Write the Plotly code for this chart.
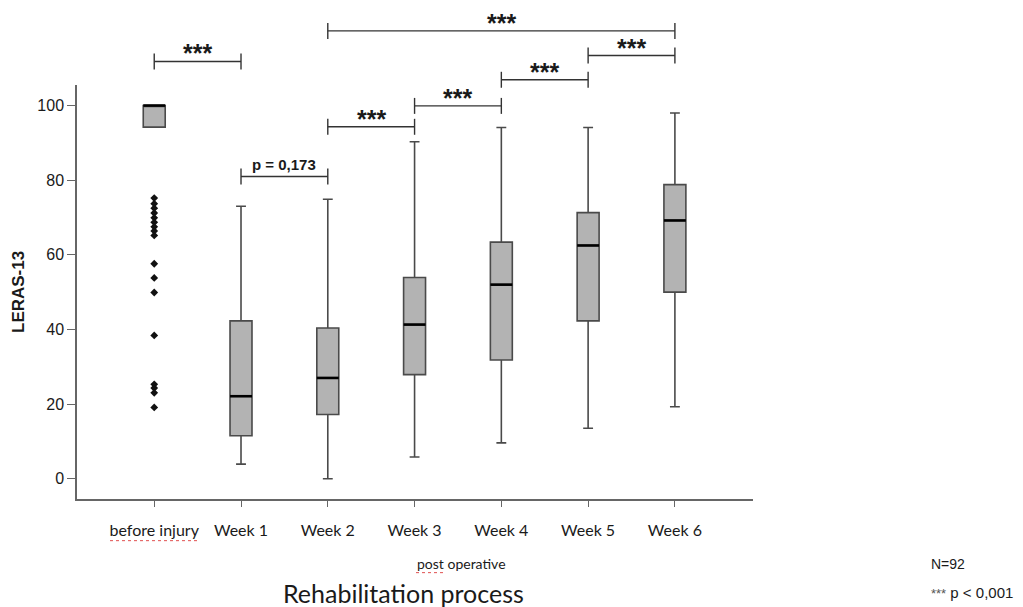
import plotly.graph_objects as go

# ---- data ----
categories = ["before injury", "Week 1", "Week 2", "Week 3", "Week 4", "Week 5", "Week 6"]
q1 = [94.2, 11.5, 17.2, 27.9, 31.8, 42.3, 50.0]
median = [100.0, 22.1, 27.0, 41.3, 52.0, 62.5, 69.2]
q3 = [100.0, 42.3, 40.4, 53.9, 63.4, 71.3, 78.8]
lower_whisker = [94.2, 3.9, 0.0, 5.8, 9.6, 13.5, 19.3]
upper_whisker = [100.0, 73.0, 74.9, 90.3, 94.1, 94.1, 98.0]
outliers_before_injury = [75.2, 73.7, 72.5, 71.2, 69.9, 68.7, 67.5, 66.4, 65.2,
                          57.6, 53.8, 49.9, 38.4, 25.3, 24.3, 23.0, 19.1]
y_ticks = [0, 20, 40, 60, 80, 100]

# comparisons: (from category index, to category index, label)
comparisons = [(0, 1, "***"), (1, 2, "p = 0,173"), (2, 3, "***"), (3, 4, "***"),
               (4, 5, "***"), (5, 6, "***"), (2, 6, "***")]
# bracket heights on the LERAS-13 scale (layout)
bracket_levels = [111.8, 81.0, 94.3, 99.9, 106.9, 113.4, 120.0]

# ---- layout constants ----
Y_MIN, Y_MAX = -5.44, 105.5
X_MIN, X_MAX = -0.89, 6.90
BOX_W = 0.253
BOX_FILL = "#b3b3b3"
LINE_C = "#4a4a4a"
AXIS_C = "#666666"
TEXT_C = "#1a1a1a"
PLOT_L, PLOT_W, PLOT_B, PLOT_H = 77, 676, 499.3, 414.3


def yp(v):
    return (v - Y_MIN) / (Y_MAX - Y_MIN)


def px_x(x):
    return (x - PLOT_L) / PLOT_W


def px_y(y):
    return (PLOT_B - y) / PLOT_H


fig = go.Figure()

for i, cat in enumerate(categories):
    fig.add_trace(go.Box(
        x=[i], q1=[q1[i]], median=[median[i]], q3=[q3[i]],
        lowerfence=[lower_whisker[i]], upperfence=[upper_whisker[i]],
        width=BOX_W, whiskerwidth=0.45, boxpoints=False,
        fillcolor=BOX_FILL, line=dict(color=LINE_C, width=1.6),
        name=cat, showlegend=False, hoverinfo="skip",
    ))
    # bold black median line
    fig.add_shape(type="line", xref="x", yref="y",
                  x0=i - BOX_W / 2, x1=i + BOX_W / 2, y0=median[i], y1=median[i],
                  line=dict(color="#000000", width=2.6))

fig.add_trace(go.Scatter(
    x=[0] * len(outliers_before_injury), y=outliers_before_injury, mode="markers",
    marker=dict(symbol="diamond", size=6, color="#111111"),
    showlegend=False, hoverinfo="skip",
))

# significance brackets
tick_half = 2.14
for (a, b, label), lvl in zip(comparisons, bracket_levels):
    fig.add_shape(type="line", xref="x", yref="paper", x0=a, x1=b,
                  y0=yp(lvl), y1=yp(lvl), line=dict(color="#333333", width=1.4))
    for xx in (a, b):
        fig.add_shape(type="line", xref="x", yref="paper", x0=xx, x1=xx,
                      y0=yp(lvl - tick_half), y1=yp(lvl + tick_half),
                      line=dict(color="#333333", width=1.4))
    if label == "***":
        fig.add_annotation(x=(a + b) / 2, y=yp(lvl), xref="x", yref="paper",
                           text="<b>***</b>", showarrow=False, yanchor="bottom", yshift=-8,
                           font=dict(family="Liberation Sans, Arial", size=25, color=TEXT_C))
    else:
        fig.add_annotation(x=(a + b) / 2, y=yp(lvl), xref="x", yref="paper",
                           text="<b>" + label + "</b>", showarrow=False, yanchor="bottom", yshift=1,
                           font=dict(family="Liberation Sans Narrow, Liberation Sans, Arial", size=15,
                                     color=TEXT_C))

# y axis title
fig.add_annotation(text="<b>LERAS-13</b>", xref="paper", yref="paper",
                   x=px_x(18), y=0.5, xanchor="center", yanchor="middle",
                   textangle=-90, showarrow=False,
                   font=dict(family="Liberation Sans, Arial", size=17, color=TEXT_C))

# bottom texts
fig.add_annotation(text="post operative", xref="paper", yref="paper",
                   x=px_x(461), y=px_y(564), xanchor="center", yanchor="middle",
                   showarrow=False, font=dict(family="Lato, Open Sans", size=14, color=TEXT_C))
fig.add_annotation(text="Rehabilitation process", xref="paper", yref="paper",
                   x=px_x(403), y=px_y(593), xanchor="center", yanchor="middle",
                   showarrow=False, font=dict(family="Lato, Open Sans", size=25, color=TEXT_C))
fig.add_annotation(text="N=92", xref="paper", yref="paper",
                   x=px_x(929), y=px_y(564), xanchor="left", yanchor="middle",
                   showarrow=False, font=dict(family="Liberation Sans, Arial", size=14, color=TEXT_C))
fig.add_annotation(text="<span style='font-size:13px;color:#555'>***</span> p &lt; 0,001",
                   xref="paper", yref="paper",
                   x=px_x(929), y=px_y(593), xanchor="left", yanchor="middle",
                   showarrow=False, font=dict(family="Liberation Sans, Arial", size=15, color=TEXT_C))

# spell-check underlines seen in the reference screenshot
fig.add_shape(type="line", xref="paper", yref="paper", x0=px_x(110), x1=px_x(199),
              y0=px_y(541), y1=px_y(541), line=dict(color="#e05050", width=1, dash="dot"))
fig.add_shape(type="line", xref="paper", yref="paper", x0=px_x(416), x1=px_x(444),
              y0=px_y(573), y1=px_y(573), line=dict(color="#e05050", width=1, dash="dot"))

fig.update_layout(
    width=1023, height=607,
    margin=dict(l=77, r=270, t=85, b=108),
    paper_bgcolor="white", plot_bgcolor="white",
    xaxis=dict(range=[X_MIN, X_MAX], tickvals=list(range(len(categories))), ticktext=categories,
               showline=True, linecolor=AXIS_C, linewidth=1.5, ticks="outside", ticklen=6,
               tickcolor=AXIS_C, tickwidth=1.3, showgrid=False, zeroline=False,
               ticklabelstandoff=10,
               tickfont=dict(family="Lato, Open Sans", size=16, color=TEXT_C)),
    yaxis=dict(range=[Y_MIN, Y_MAX], tickvals=y_ticks, showline=True, linecolor=AXIS_C,
               linewidth=1.5, ticks="outside", ticklen=8, tickcolor=AXIS_C, tickwidth=1.3,
               showgrid=False, zeroline=False,
               tickfont=dict(family="Liberation Sans, Arial", size=16, color=TEXT_C)),
)

fig.write_html("out.html", config={"displayModeBar": False},
               post_script="document.body.style.margin='0';document.body.style.overflow='hidden';")
